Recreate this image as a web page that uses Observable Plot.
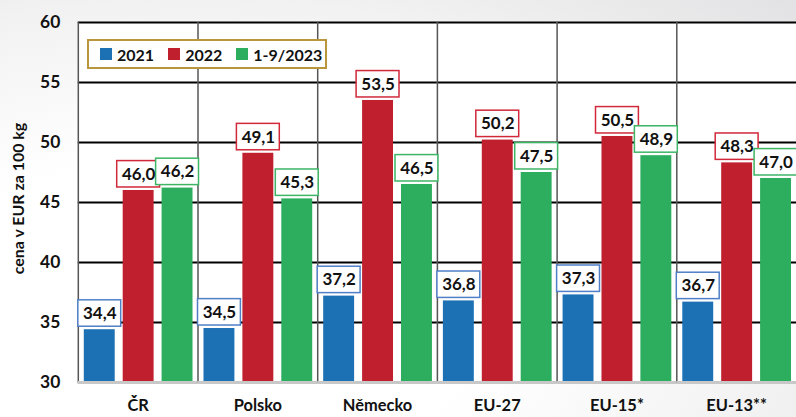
<!DOCTYPE html>
<html>
<head>
<meta charset="utf-8">
<script src="https://cdn.jsdelivr.net/npm/d3@7"></script>
<script src="https://cdn.jsdelivr.net/npm/@observablehq/plot@0.6"></script>
<style>
html,body{margin:0;padding:0;}
body{width:796px;height:417px;overflow:hidden;background:radial-gradient(ellipse at 25% 75%, #ffffff 35%, #f2f2f2 70%, #e2e2e4 100%);}
#wrap{position:relative;width:796px;height:417px;overflow:hidden;font-family:Lato,"Open Sans",sans-serif;}
#legend{position:absolute;left:87px;top:39px;width:236px;height:26px;border:2px solid #b8963c;background:#fff;display:flex;align-items:center;font-weight:bold;font-size:16px;color:#111;box-sizing:content-box;white-space:nowrap;}
#legend .item{display:flex;align-items:center;margin-left:11px;margin-right:3px;white-space:nowrap;}
#legend .sw{width:12px;height:12px;margin-right:5px;flex:none;}
</style>
</head>
<body>
<div id="wrap"><div id="chart"></div><div id="legend"></div></div>
<script>
const countries = ["ČR", "Polsko", "Německo", "EU-27", "EU-15*", "EU-13**"];
const years = ["2021", "2022", "1-9/2023"];
const v2021 = [34.4, 34.5, 37.2, 36.8, 37.3, 36.7];
const v2022 = [46.0, 49.1, 53.5, 50.2, 50.5, 48.3];
const v2023 = [46.2, 45.3, 46.5, 47.5, 48.9, 47.0];
const yTicks = [30, 35, 40, 45, 50, 55, 60];
const yLabel = "cena v EUR za 100 kg";
const barColors = ["#1c70b4", "#c01f2e", "#2dae5e"];
const boxColors = ["#4f7fc6", "#d1283a", "#3db565"];

const series = [v2021, v2022, v2023];
const data = countries.flatMap((c, i) => years.map((y, j) => ({country: c, year: y, value: series[j][i]})));
const fmt = v => v.toFixed(1).replace(".", ",");

const chart = Plot.plot({
  width: 798, height: 417,
  marginLeft: 78, marginRight: 0, marginTop: 22, marginBottom: 34,
  style: {fontFamily: "Lato, 'Open Sans', sans-serif", fontWeight: "bold", color: "#111", background: "transparent", overflow: "visible"},
  fx: {domain: countries, padding: 0, label: null},
  x: {domain: years, paddingInner: 0.21, paddingOuter: 0.14, axis: null},
  y: {domain: [30, 60]},
  color: {domain: years, range: barColors},
  marks: [
    Plot.frame({fill: "white", stroke: null}),
    Plot.ruleY(yTicks.slice(1), {stroke: "#000", strokeWidth: 2}),
    Plot.frame({anchor: "left", stroke: "#555", strokeWidth: 1.5}),
    Plot.barY(data, {fx: "country", x: "year", y1: 30, y2: "value", fill: "year"}),
    Plot.ruleY([30], {stroke: "#c8c8c8", strokeWidth: 3}),
    ...years.map((yr, j) => Plot.barY(data.filter(d => d.year === yr), {
      fx: "country", x: "year",
      y1: d => d.value + 0.25, y2: d => d.value + 2.45,
      fill: "white", stroke: boxColors[j], strokeWidth: 1.5,
      insetLeft: -6, insetRight: -6
    })),
    Plot.text(data, {fx: "country", x: "year", y: d => d.value + 1.35, text: d => fmt(d.value), fontSize: 17, fontWeight: "bold", fill: "#111"}),
    Plot.axisY({ticks: yTicks, tickSize: 0, tickPadding: 18, fontSize: 17.5, label: null}),
    Plot.text([yLabel], {fx: () => countries[0], frameAnchor: "left", textAnchor: "middle", dx: -60, dy: -4, rotate: -90, text: d => d, fontSize: 16, fontWeight: "bold", fill: "#111"}),
    Plot.axisFx({anchor: "bottom", tickSize: 0, tickPadding: 17, fontSize: 16.5, label: null})
  ]
});
document.getElementById("chart").appendChild(chart);

const legend = document.getElementById("legend");
years.forEach((y, i) => {
  const it = document.createElement("div");
  it.className = "item";
  it.innerHTML = `<div class="sw" style="background:${barColors[i]}"></div><span>${y}</span>`;
  legend.appendChild(it);
});
</script>
</body>
</html>
